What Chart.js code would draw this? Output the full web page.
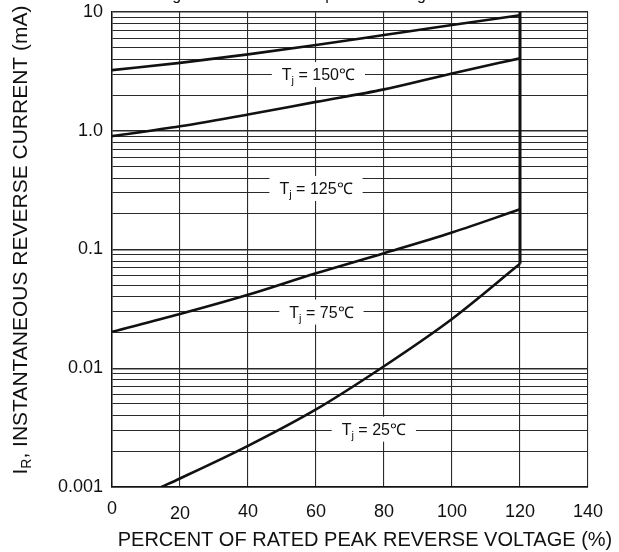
<!DOCTYPE html>
<html>
<head>
<meta charset="utf-8">
<script src="https://cdn.jsdelivr.net/npm/chart.js@4.4.1/dist/chart.umd.min.js"></script>
<style>
  body { margin: 0; background: #ffffff; }
  canvas { display: block; }
</style>
</head>
<body>
<canvas id="reverseChart" width="619" height="552"></canvas>
<script>
// ==========================================
// DATA
// ==========================================
const xPercent = [0, 20, 40, 60, 80, 100, 120];
const tj150 = [3.24, 3.73, 4.4, 5.27, 6.4, 7.77, 9.4];
const tj125 = [0.9, 1.09, 1.37, 1.75, 2.23, 3.04, 4.07];
const tj75 = [0.0203, 0.0286, 0.0415, 0.063, 0.093, 0.139, 0.218];
const tj25X = [14.5, 20, 40, 60, 80, 100, 120];
const tj25 = [0.001, 0.00118, 0.00222, 0.0045, 0.0104, 0.026, 0.0757];
const limitX = [120, 120];
const limitY = [10, 0.0757];

const xTicks = [0, 20, 40, 60, 80, 100, 120, 140];
const yTickValues = [0.001, 0.01, 0.1, 1, 10];
const yTickLabels = ['0.001', '0.01', '0.1', '1.0', '10'];
const tjNames = ['150℃', '125℃', '75℃', '25℃'];

// where each Tj label sits (x in %, y in mA)
const labelAnchorX = [60.7, 60, 61.6, 77];
const labelAnchorY = [3, 0.33, 0.03, 0.0031];

const FONT = '"Liberation Sans", Arial, sans-serif';
const INK = '#111111';

function toPoints(xs, ys) {
    return xs.map((x, i) => ({ x: x, y: ys[i] }));
}

function isDecade(v) {
    return yTickValues.some(d => Math.abs(d - v) / d < 1e-6);
}

document.addEventListener('DOMContentLoaded', function () {

    // ==========================================
    // 1. PLUGINS (labels with subscripts)
    // ==========================================

    // A. Tj labels sitting on the grid with a white box
    const tjLabelPlugin = {
        id: 'tjLabels',
        afterDatasetsDraw(chart) {
            const { ctx, scales: { x, y } } = chart;
            ctx.save();
            tjNames.forEach((name, i) => {
                const cx = x.getPixelForValue(labelAnchorX[i]);
                const cy = y.getPixelForValue(labelAnchorY[i]);
                ctx.font = '16px ' + FONT;
                const wT = ctx.measureText('T').width;
                const wRest = ctx.measureText(' = ' + name).width;
                ctx.font = '11px ' + FONT;
                const wj = ctx.measureText('j').width;
                const w = wT + wj + wRest;
                const left = cx - w / 2;

                ctx.fillStyle = '#ffffff';
                ctx.fillRect(left - 10, cy - 12, w + 20, 25);

                ctx.fillStyle = INK;
                ctx.textBaseline = 'alphabetic';
                ctx.textAlign = 'left';
                const base = cy + 6;
                ctx.font = '16px ' + FONT;
                ctx.fillText('T', left, base);
                ctx.font = '11px ' + FONT;
                ctx.fillText('j', left + wT, base + 4);
                ctx.font = '16px ' + FONT;
                ctx.fillText(' = ' + name, left + wT + wj, base);
            });
            ctx.restore();
        }
    };

    // B. Axis titles (R subscript on the y title), plus the clipped figure caption
    const axisTextPlugin = {
        id: 'axisText',
        afterDraw(chart) {
            const { ctx } = chart;
            ctx.save();
            ctx.translate(21, 240);
            ctx.rotate(-Math.PI / 2);
            ctx.fillStyle = INK;
            ctx.textBaseline = 'middle';
            ctx.textAlign = 'left';
            const rest = ', INSTANTANEOUS REVERSE CURRENT (mA)';
            ctx.font = '21px ' + FONT;
            const wI = ctx.measureText('I').width;
            const wRest = ctx.measureText(rest).width;
            ctx.font = '14px ' + FONT;
            const wR = ctx.measureText('R').width;
            let px = -(wI + wR + wRest) / 2;
            ctx.font = '21px ' + FONT;
            ctx.fillText('I', px, 0);
            px += wI;
            ctx.font = '14px ' + FONT;
            ctx.fillText('R', px, 6);
            px += wR;
            ctx.font = '21px ' + FONT;
            ctx.fillText(rest, px, 0);
            ctx.restore();

            // x title
            ctx.save();
            ctx.fillStyle = INK;
            ctx.font = '20px ' + FONT;
            ctx.textAlign = 'center';
            ctx.textBaseline = 'middle';
            ctx.fillText('PERCENT OF RATED PEAK REVERSE VOLTAGE (%)', 365, 540);
            ctx.restore();

            // caption sits above the canvas, only descenders show
            ctx.save();
            ctx.fillStyle = INK;
            ctx.font = '16px ' + FONT;
            ctx.textBaseline = 'alphabetic';
            ctx.textAlign = 'left';
            ctx.fillText('Fig. 3 Reverse Current per Diode Leg', 159, 0);
            ctx.restore();
        }
    };

    // ==========================================
    // 2. CHART.JS INITIALIZATION
    // ==========================================
    const ctx = document.getElementById('reverseChart').getContext('2d');

    const curve = (label, points) => ({
        label: label,
        data: points,
        borderColor: INK,
        borderWidth: 2.6,
        pointRadius: 0,
        cubicInterpolationMode: 'monotone',
        fill: false
    });

    new Chart(ctx, {
        type: 'line',
        data: {
            datasets: [
                curve('Tj = 150℃', toPoints(xPercent, tj150)),
                curve('Tj = 125℃', toPoints(xPercent, tj125)),
                curve('Tj = 75℃', toPoints(xPercent, tj75)),
                curve('Tj = 25℃', toPoints(tj25X, tj25)),
                {
                    label: 'limit',
                    data: toPoints(limitX, limitY),
                    borderColor: INK,
                    borderWidth: 3,
                    pointRadius: 0,
                    tension: 0
                }
            ]
        },
        options: {
            responsive: false,
            animation: false,
            layout: { padding: { top: 12, right: 31, left: 0, bottom: 0 } },
            plugins: {
                legend: { display: false },
                tooltip: { enabled: false }
            },
            scales: {
                x: {
                    type: 'linear',
                    min: 0,
                    max: 140,
                    afterBuildTicks: s => { s.ticks = xTicks.map(v => ({ value: v })); },
                    afterFit: s => { s.height = 65; },
                    ticks: {
                        color: INK,
                        // the printed "0" sits a little high and "20" a little low
                        font: c => ({
                            family: FONT,
                            size: 18,
                            lineHeight: (c.tick && c.tick.value === 0) ? 0.9 : (c.tick && c.tick.value === 20) ? 1.5 : 1.2
                        }),
                        padding: 14,
                        maxRotation: 0,
                        autoSkip: false
                    },
                    grid: { color: '#2a2a2a', lineWidth: 1.1, drawTicks: false },
                    border: { color: INK, width: 1.5 }
                },
                y: {
                    type: 'logarithmic',
                    min: 0.001,
                    max: 10,
                    afterBuildTicks: s => {
                        const ticks = [];
                        yTickValues.forEach((d, i) => {
                            if (i === yTickValues.length - 1) { ticks.push({ value: d }); return; }
                            for (let m = 1; m <= 9; m++) ticks.push({ value: +(d * m).toPrecision(3) });
                        });
                        s.ticks = ticks;
                    },
                    afterFit: s => {
                        s.width = 112;
                        s.paddingTop = 0;
                        s.paddingBottom = 0;
                    },
                    ticks: {
                        autoSkip: false,
                        color: INK,
                        font: { family: FONT, size: 18 },
                        padding: 9,
                        callback: v => {
                            const i = yTickValues.findIndex(d => Math.abs(d - v) / d < 1e-6);
                            return i >= 0 ? yTickLabels[i] : '';
                        }
                    },
                    grid: {
                        color: '#2a2a2a',
                        lineWidth: c => (c.tick && isDecade(c.tick.value)) ? 1.5 : 1,
                        drawTicks: false
                    },
                    border: { color: INK, width: 1.5 }
                }
            }
        },
        plugins: [tjLabelPlugin, axisTextPlugin]
    });
});
</script>
</body>
</html>
